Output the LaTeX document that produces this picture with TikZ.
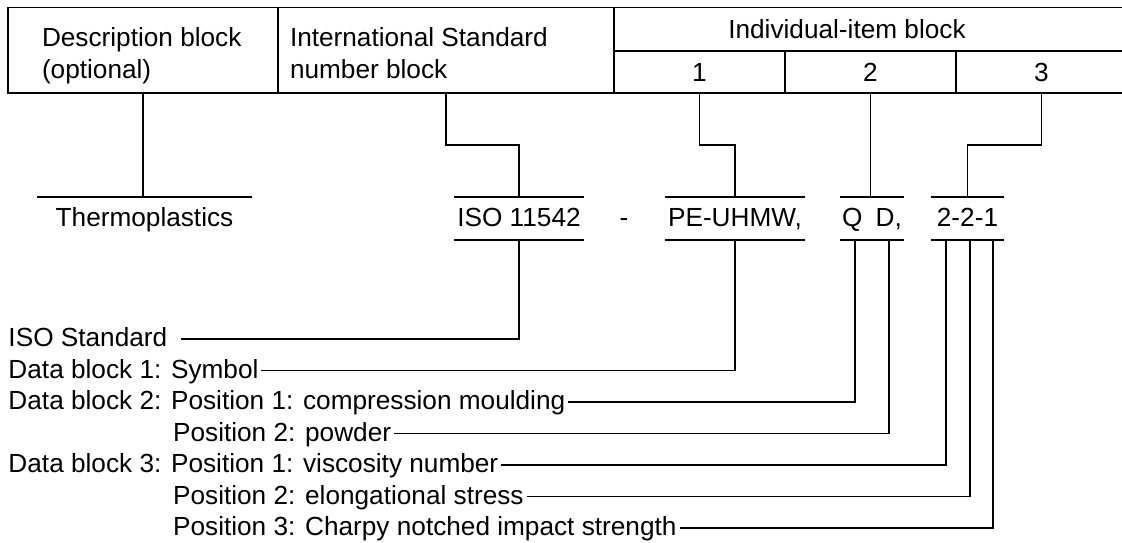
\documentclass[tikz,border=0pt]{standalone}
\usepackage{fontspec}
\setmainfont{Liberation Sans}
\begin{document}
\begin{tikzpicture}[x=1pt,y=-1pt,line width=1.8pt,
  every node/.style={font=\fontsize{26.2}{31}\selectfont, inner sep=0pt, outer sep=0pt},
  cell/.style={draw, rectangle, inner sep=0pt, text height=18.8pt, text depth=0pt},
  hdr/.style={anchor=base west},
  lbl/.style={anchor=west, text height=18.8pt, text depth=3pt},
  item/.style={minimum width=#1, minimum height=42.5pt, text height=18.8pt, text depth=2.6pt}]
\clip (0,0) rectangle (1122,542);
% header cells
\node[cell, minimum width=270pt, minimum height=85.5pt] (desc) at (143,50.25) {};
\node[cell, minimum width=336pt, minimum height=85.5pt] (isocell) at (446,50.25) {};
\node[cell, minimum width=513pt, minimum height=43.5pt] (indiv) at (870.5,29.25) {};
\node[cell, minimum width=171pt, minimum height=42pt] (sub1) at (699.5,72) {1};
\node[cell, minimum width=171pt, minimum height=42pt] (sub2) at (870.5,72) {2};
\node[cell, minimum width=171pt, minimum height=42pt] (sub3) at (1041.5,72) {3};
\node[hdr] (desca) at (42,46.3) {Description block};
\node[hdr] (descb) at (42,78.5) {(optional)};
\node[hdr] (isoa) at (290,46.3) {International Standard};
\node[hdr] (isob) at (290,78.5) {number block};
\node (indivt) at (847,29) {Individual-item block};
% designation items
\node[item=215pt] (thermo) at (144.5,218.5) {Thermoplastics};
\node[item=130pt] (iso) at (519,218.5) {ISO 11542};
\node[item=10pt] (dash) at (624,218.5) {-};
\node[item=140pt] (pe) at (735,218.5) {PE-UHMW,};
\node[item=64pt] (qd) at (872,218.5) {Q\hspace{13pt}D,\hspace{3pt}};
\node[item=73pt] (num) at (967.5,218.5) {2-2-1};
\draw (thermo.north west) -- (thermo.north east);
\foreach \n in {iso,pe,qd,num}{
  \draw (\n.north west) -- (\n.north east);
  \draw (\n.south west) -- (\n.south east);
}
% upper connectors
\draw (desc.south) -- (desc.south |- thermo.north);
\draw (isocell.south) -- ++(0,52) -| (iso.north);
\draw (sub1.south) -- ++(0,52) -| (pe.north);
\draw (sub2.south) -- (sub2.south |- qd.north);
\draw (sub3.south) -- ++(0,52) -| (num.north);
% explanation labels
\node[lbl] (r1) at (8.5,339) {ISO Standard};
\node[lbl] (r2) at (8.5,370.5) {Data block 1: Symbol};
\node[lbl] (r3) at (8.5,402) {Data block 2: Position 1: compression moulding};
\node[lbl] (r4) at (8.5,433.5) {\phantom{Data block 2: }\hspace{2pt}Position 2: powder};
\node[lbl] (r5) at (8.5,465) {Data block 3: Position 1: viscosity number};
\node[lbl] (r6) at (8.5,496.5) {\phantom{Data block 3: }\hspace{2pt}Position 2: elongational stress};
\node[lbl] (r7) at (8.5,528) {\phantom{Data block 3: }\hspace{2pt}Position 3: Charpy notched impact strength};
% lower connectors
\draw (iso.south) |- ([xshift=14pt]r1.east);
\draw (pe.south) |- ([xshift=3pt]r2.east);
\draw ([xshift=15pt]qd.south west) |- ([xshift=3pt]r3.east);
\draw ([xshift=49pt]qd.south west) |- ([xshift=3pt]r4.east);
\draw ([xshift=15pt]num.south west) |- ([xshift=3pt]r5.east);
\draw ([xshift=39pt]num.south west) |- ([xshift=3pt]r6.east);
\draw ([xshift=62pt]num.south west) |- ([xshift=3pt]r7.east);
\end{tikzpicture}
\end{document}
